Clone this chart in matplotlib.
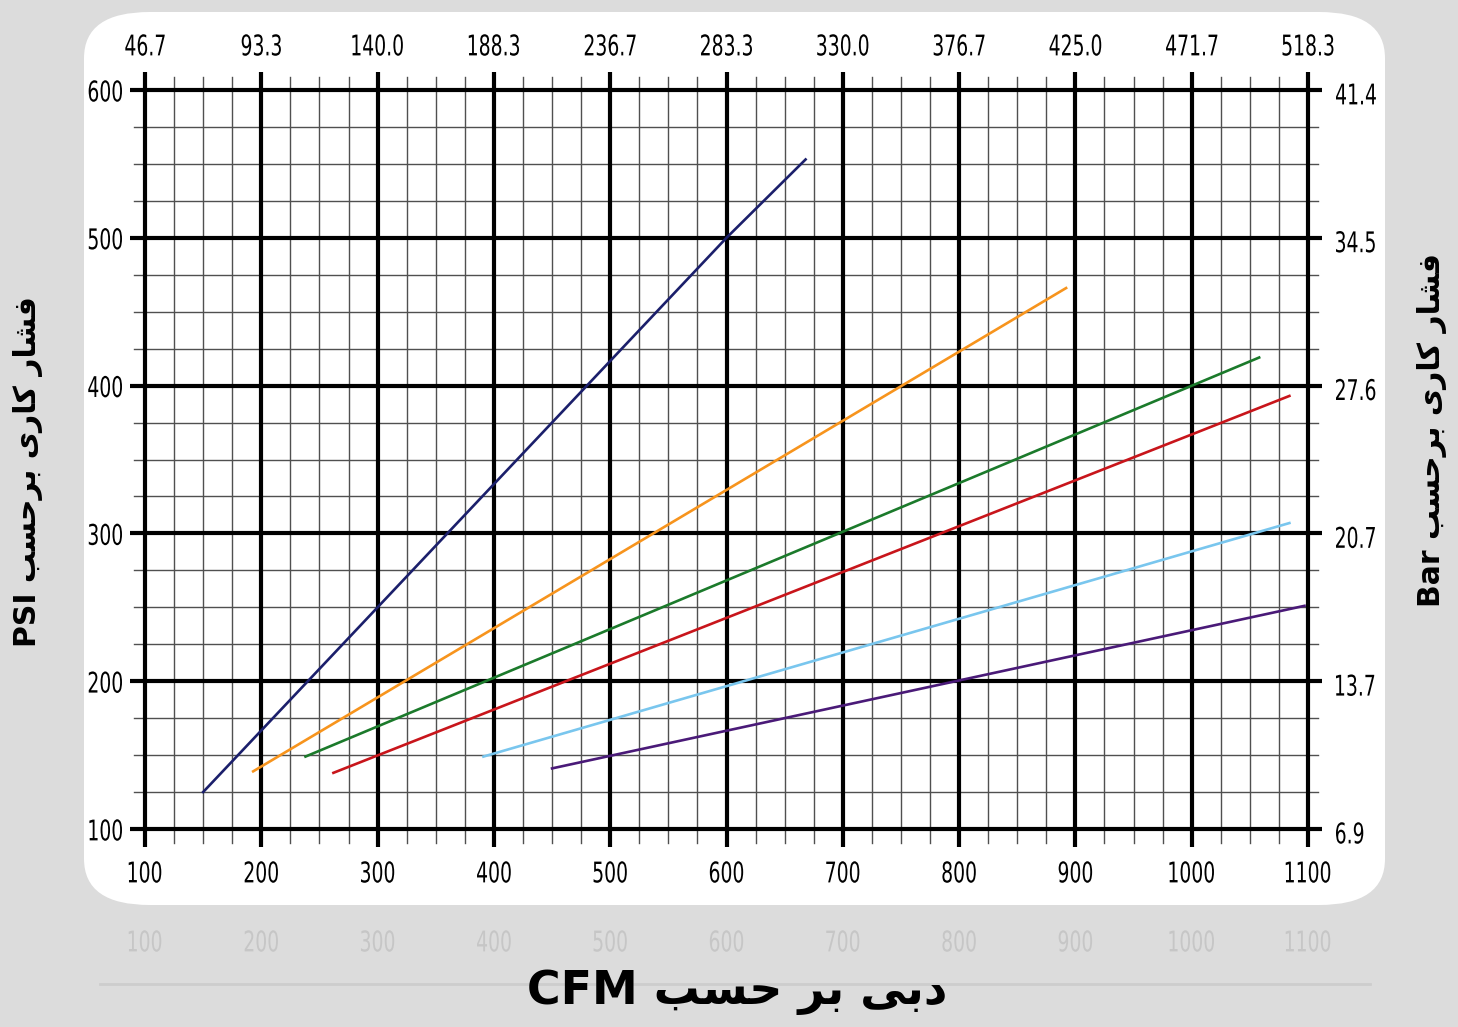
import numpy as np
import matplotlib.pyplot as plt
from matplotlib.patches import FancyBboxPatch, PathPatch
from matplotlib.textpath import TextPath
from matplotlib.font_manager import FontProperties
from matplotlib.transforms import Affine2D

# axis values
cfm_ticks = [100, 200, 300, 400, 500, 600, 700, 800, 900, 1000, 1100]
psi_ticks = [100, 200, 300, 400, 500, 600]
top_labels = ['46.7', '93.3', '140.0', '188.3', '236.7', '283.3',
              '330.0', '376.7', '425.0', '471.7', '518.3']
bar_labels = ['6.9', '13.7', '20.7', '27.6', '34.5', '41.4']

# compressor curves (CFM, PSI)
navy_x = [150, 600, 668]
navy_y = [125, 500, 553]
orange_x = [193, 892]
orange_y = [139, 466]
green_x = [238, 1058]
green_y = [149, 419]
red_x = [262, 1084]
red_y = [138, 393]
lblue_x = [391, 1084]
lblue_y = [149, 307]
purple_x = [450, 1097]
purple_y = [141, 251]

W, H = 1458, 1027
fig = plt.figure(figsize=(W / 100, H / 100), dpi=100)
fig.patch.set_facecolor('#dcdcdc')

# white rounded panel
panel = FancyBboxPatch((84 / W, 1 - 905 / H), (1385 - 84) / W, (905 - 12) / H,
                       boxstyle='round,pad=0,rounding_size=0.045',
                       transform=fig.transFigure, facecolor='white',
                       edgecolor='none', zorder=-5)
fig.patches.append(panel)

ax = fig.add_axes([145 / W, 1 - 829 / H, (1308 - 145) / W, (829 - 90) / H])
ax.set_zorder(2)
ax.set_xlim(100, 1100)
ax.set_ylim(100, 600)
ax.axis('off')

# overlay in pixel units for the narrow tick labels
pix = fig.add_axes([0, 0, 1, 1])
pix.set_zorder(3)
pix.set_xlim(0, W)
pix.set_ylim(0, H)
pix.axis('off')
pix.patch.set_alpha(0)

narrow_font = FontProperties(family='DejaVu Sans')


def narrow_text(x, y, s, size=28.5, sx=0.66, ha='center', color='black'):
    # x, y in pixels from top-left, y is the vertical centre of the digits
    tp = TextPath((0, 0), s, size=size, prop=narrow_font)
    ext = tp.get_extents()
    w = ext.width * sx
    if ha == 'center':
        x0 = x - w / 2
    elif ha == 'right':
        x0 = x - w
    else:
        x0 = x
    cap = 0.729 * size
    tr = Affine2D().scale(sx, 1).translate(x0 - ext.x0 * sx, (H - y) - cap / 2)
    pix.add_patch(PathPatch(tr.transform_path(tp), facecolor=color,
                            edgecolor='none', lw=0))


# faint reflection at the bottom
for c in cfm_ticks:
    narrow_text(145 + (c - 100) * 1.163, 941, str(c), color='#c6c6c6')
fig.add_artist(plt.Line2D([100 / W, 1370 / W], [1 - 984 / H, 1 - 984 / H],
                          transform=fig.transFigure, color='#cdcdcd', lw=2, zorder=-4))

px_x = 1000 / (1308 - 145)  # data units per pixel
px_y = 500 / (829 - 90)

minor_x = np.arange(100, 1101, 25)
minor_y = np.arange(100, 601, 25)

for x in minor_x:
    if x % 100:
        ax.plot([x, x], [100 - 14 * px_y, 600 + 13 * px_y], color='#505050',
                lw=1.0, clip_on=False, zorder=1)
for y in minor_y:
    if y % 100:
        ax.plot([100 - 11 * px_x, 1100 + 10 * px_x], [y, y], color='#505050',
                lw=1.0, clip_on=False, zorder=1)
for x in cfm_ticks:
    ax.plot([x, x], [100 - 18 * px_y, 600 + 18 * px_y], color='black',
            lw=3.0, clip_on=False, zorder=2, solid_capstyle='butt')
for y in psi_ticks:
    ax.plot([100 - 15 * px_x, 1100 + 14 * px_x], [y, y], color='black',
            lw=3.0, clip_on=False, zorder=2, solid_capstyle='butt')

series = [
    (navy_x, navy_y, '#1b1f6b'),
    (orange_x, orange_y, '#f7941d'),
    (green_x, green_y, '#1b7a2b'),
    (red_x, red_y, '#c8151b'),
    (lblue_x, lblue_y, '#79c6ee'),
    (purple_x, purple_y, '#4a1a78'),
]
for xs, ys, col in series:
    ax.plot(xs, ys, color=col, lw=1.9, clip_on=False, zorder=3)

# tick labels placed through the data axes, converted to pixels
to_pix = ax.transData
for c, lab in zip(cfm_ticks, top_labels):
    xp, _ = to_pix.transform((c, 600))
    narrow_text(xp, 45, lab)
    narrow_text(xp, 872, str(c))
for p, lab in zip(psi_ticks, bar_labels):
    _, yp = to_pix.transform((100, p))
    narrow_text(122, H - yp + 1, str(p), ha='right')
    narrow_text(1336, H - yp + 4, lab, ha='left')

# Persian labels written in visual order with presentation forms
birhasb = '\uFE90\uFEB4\uFEA3\uFEAE\uFE91'
kari = '\uFEEF\uFEAD\uFE8E\uFEDB'
feshar = '\uFEAD\uFE8E\uFEB8\uFED3'
psi_label = 'PSI ' + birhasb + ' ' + kari + ' ' + feshar
bar_label = 'Bar ' + birhasb + ' ' + kari + ' ' + feshar
cfm_label = 'CFM \uFE90\uFEB4\uFEA3 \uFEAE\uFE91 \uFEF0\uFE91\uFEA9'

fig.text(28 / W, 1 - 472 / H, psi_label, rotation=90, ha='center', va='center',
         fontsize=21.5, fontweight='bold', family=['DejaVu Sans'])
fig.text(1432 / W, 1 - 430 / H, bar_label, rotation=90, ha='center', va='center',
         fontsize=21.5, fontweight='bold', family=['DejaVu Sans'])
fig.text(737 / W, 1 - 992 / H, cfm_label, ha='center', va='center',
         fontsize=33, fontweight='bold', family=['DejaVu Sans'], zorder=5)

fig.savefig('out.png', dpi=100, facecolor=fig.get_facecolor())
